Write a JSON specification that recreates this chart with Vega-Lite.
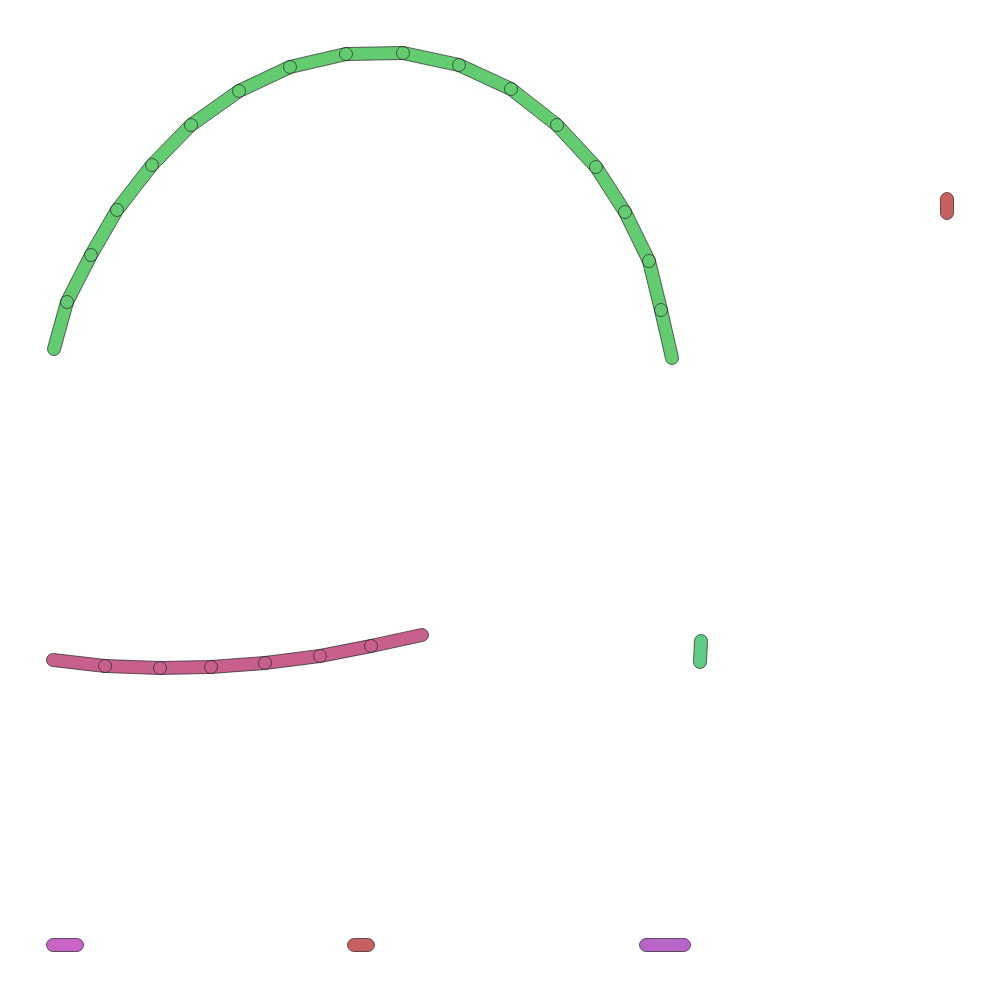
{
  "$schema": "https://vega.github.io/schema/vega-lite/v6.json",
  "width": 1001,
  "height": 1000,
  "autosize": {"type": "fit", "contains": "padding"},
  "padding": 0,
  "config": {"view": {"stroke": null}},
  "data": {"values": [
    {"s": "a", "i": 0, "x": 54, "y": 349}, {"s": "a", "i": 1, "x": 67, "y": 302},
    {"s": "a", "i": 2, "x": 91, "y": 255}, {"s": "a", "i": 3, "x": 117, "y": 210},
    {"s": "a", "i": 4, "x": 152, "y": 165}, {"s": "a", "i": 5, "x": 191, "y": 125},
    {"s": "a", "i": 6, "x": 239, "y": 91}, {"s": "a", "i": 7, "x": 290, "y": 67},
    {"s": "a", "i": 8, "x": 346, "y": 54}, {"s": "a", "i": 9, "x": 403, "y": 53},
    {"s": "a", "i": 10, "x": 459, "y": 65}, {"s": "a", "i": 11, "x": 511, "y": 89},
    {"s": "a", "i": 12, "x": 557, "y": 125}, {"s": "a", "i": 13, "x": 596, "y": 167},
    {"s": "a", "i": 14, "x": 625, "y": 212}, {"s": "a", "i": 15, "x": 649, "y": 261},
    {"s": "a", "i": 16, "x": 661, "y": 310}, {"s": "a", "i": 17, "x": 672, "y": 358},
    {"s": "b", "i": 0, "x": 53, "y": 660}, {"s": "b", "i": 1, "x": 105, "y": 666},
    {"s": "b", "i": 2, "x": 160, "y": 668}, {"s": "b", "i": 3, "x": 211, "y": 667},
    {"s": "b", "i": 4, "x": 265, "y": 663}, {"s": "b", "i": 5, "x": 320, "y": 656},
    {"s": "b", "i": 6, "x": 371, "y": 646}, {"s": "b", "i": 7, "x": 422, "y": 635},
    {"s": "c", "i": 0, "x": 701, "y": 641}, {"s": "c", "i": 1, "x": 700, "y": 662},
    {"s": "d", "i": 0, "x": 947, "y": 199}, {"s": "d", "i": 1, "x": 947, "y": 213},
    {"s": "e", "i": 0, "x": 53, "y": 945}, {"s": "e", "i": 1, "x": 77, "y": 945},
    {"s": "f", "i": 0, "x": 354, "y": 945}, {"s": "f", "i": 1, "x": 368, "y": 945},
    {"s": "g", "i": 0, "x": 646, "y": 945}, {"s": "g", "i": 1, "x": 684, "y": 945}
  ]},
  "mark": {"type": "trail", "stroke": "#222", "strokeWidth": 0.7},
  "encoding": {
    "x": {"field": "x", "type": "quantitative", "scale": {"domain": [0, 1001]}, "axis": null},
    "y": {"field": "y", "type": "quantitative", "scale": {"domain": [1000, 0]}, "axis": null},
    "detail": {"field": "s"},
    "order": {"field": "i"},
    "size": {"value": 13},
    "color": {"field": "s", "type": "nominal", "legend": null,
      "scale": {"domain": ["a", "b", "c", "d", "e", "f", "g"],
        "range": ["#63cc70", "#c8608e", "#5fcc84", "#c8605f", "#c864c8", "#c8605f", "#b964c8"]}}
  }
}
